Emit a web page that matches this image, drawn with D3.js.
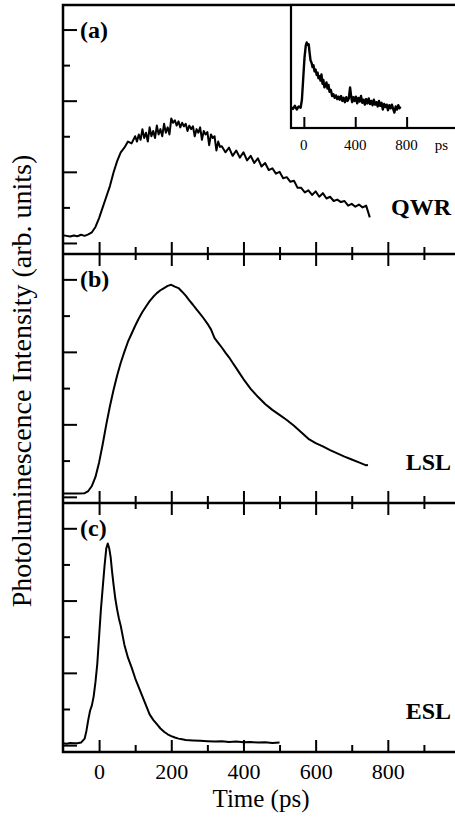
<!DOCTYPE html>
<html><head><meta charset="utf-8">
<script src="https://cdn.jsdelivr.net/npm/d3@7"></script>
<style>
body{margin:0;background:#fff}
svg{display:block}
svg text{font-family:"Liberation Serif","Times New Roman","DejaVu Serif",serif;fill:#000}
</style>
</head><body><svg id="c" width="455" height="821"></svg>
<script>
// ---------- data ----------
const qwrTime = [-100,-90,-80,-70,-60,-50,-40,-30,-20,-10,0,10,20,30,40,50,60,70,80,90,100,105,110,115,120,125,130,135,140,145,150,155,160,165,170,175,180,185,190,195,200,205,210,215,220,225,230,235,240,245,250,255,260,265,270,275,280,285,290,295,300,305,310,315,320,325,330,335,340,350,360,370,380,390,400,410,420,430,440,450,460,470,480,490,500,510,520,530,540,550,560,570,580,590,600,610,620,630,640,650,660,670,680,690,700,710,720,730,740,750];
const qwrValue = [0.22,0.20,0.18,0.21,0.19,0.23,0.20,0.24,0.30,0.45,0.70,1.00,1.30,1.60,1.98,2.30,2.55,2.68,2.85,2.80,
  3.00,2.85,3.05,2.90,3.20,2.95,3.10,2.85,3.25,3.00,3.15,2.95,3.30,3.05,3.20,3.00,3.35,3.10,3.25,3.05,
  3.50,3.38,3.45,3.30,3.42,3.25,3.38,3.28,3.35,3.15,3.30,3.20,3.28,3.00,3.20,3.10,3.25,2.90,3.15,3.05,
  3.12,2.75,3.05,2.95,3.00,2.60,2.85,2.70,2.72,
  2.55,2.68,2.45,2.60,2.40,2.55,2.32,2.45,2.25,2.38,2.15,2.25,2.05,2.10,1.95,2.00,1.82,1.85,1.72,
  1.75,1.55,1.55,1.42,1.48,1.35,1.45,1.30,1.40,1.25,1.30,1.18,1.22,1.15,1.18,1.05,1.10,1.02,1.08,1.00,1.05,0.72];

const lslTime = [-100,-80,-60,-40,-30,-20,-10,0,10,20,30,40,50,60,70,80,90,100,110,120,130,140,150,160,170,180,190,200,210,220,230,240,250,260,270,280,290,300,310,320,330,340,350,360,370,380,390,400,420,440,460,480,500,520,540,560,580,600,620,640,660,680,700,720,740,745];
const lslValue = [0.09,0.09,0.09,0.10,0.16,0.30,0.55,0.95,1.45,2.00,2.50,2.95,3.35,3.70,4.00,4.28,4.50,4.72,4.92,5.10,5.25,5.40,5.52,5.62,5.70,5.76,5.82,5.85,5.80,5.76,5.66,5.55,5.42,5.30,5.17,5.05,4.92,4.78,4.62,4.38,4.25,4.12,3.98,3.85,3.70,3.55,3.40,3.25,2.98,2.76,2.56,2.40,2.26,2.12,1.96,1.78,1.60,1.48,1.39,1.29,1.20,1.11,1.03,0.95,0.87,0.88];

const eslTime = [-100,-90,-80,-70,-60,-50,-40,-35,-30,-25,-20,-15,-10,-5,0,5,10,15,20,24,28,32,36,40,45,50,55,60,70,80,90,100,110,120,130,140,150,160,170,180,190,200,210,220,230,240,260,280,300,320,340,360,380,400,420,440,460,480,500];
const eslValue = [0.05,0.04,0.06,0.05,0.05,0.07,0.18,0.40,0.70,0.95,1.10,1.35,1.75,2.25,3.00,3.75,4.35,4.95,5.45,5.58,5.45,5.20,4.80,4.45,4.05,3.75,3.50,3.30,2.78,2.42,2.15,1.85,1.60,1.35,1.10,0.85,0.70,0.58,0.46,0.37,0.30,0.25,0.21,0.18,0.16,0.14,0.13,0.12,0.11,0.10,0.11,0.09,0.10,0.08,0.09,0.07,0.08,0.06,0.07];

const insetTime = [-100,-85,-70,-55,-40,-25,-15,-5,5,15,22,30,38,45,52,60,68,75,83,91,100,107,114,122,130,137,145,152,160,168,176,184,192,200,210,220,230,240,250,260,270,280,290,300,310,320,330,340,350,360,368,376,385,395,405,415,425,435,445,455,465,475,485,495,505,515,525,535,545,555,565,575,585,595,605,615,625,635,645,655,665,675,685,695,705,715,725,735,745,752];
const insetValue = [1.70,1.55,1.80,1.50,1.75,1.65,2.30,4.00,5.70,6.70,6.95,6.75,6.80,6.10,5.50,5.30,4.95,5.10,4.60,4.75,4.30,4.50,4.05,4.20,3.85,4.35,3.60,3.90,3.30,3.45,3.70,3.20,3.50,2.95,3.10,2.60,2.75,2.45,2.65,2.35,2.55,2.30,2.60,2.20,2.45,2.10,2.50,2.20,2.40,3.30,2.60,2.10,2.50,2.20,2.55,2.00,2.45,2.15,2.60,2.05,2.30,1.90,2.35,2.00,2.40,1.95,2.20,1.85,2.30,1.90,2.10,1.75,2.20,1.80,2.05,1.50,1.95,1.70,1.90,1.45,1.85,1.60,1.90,1.55,1.25,1.75,1.50,1.85,1.60,1.75];

const xMajorTicks = [0,200,400,600,800];
const xMinorTicks = [100,300,500,700,900];
const xTickLabels = ["0","200","400","600","800"];
const yMajorTicks = [0,2,4,6];
const yMinorTicks = [1,3,5];
const insetTicks = [0,400,800];
const insetTickLabels = ["0","400","800"];
const panelLetters = ["(a)","(b)","(c)"];
const sampleNames = ["QWR","LSL","ESL"];

// ---------- layout ----------
const svg = d3.select("#c");
const L = 63, R = 460;
const x = d3.scaleLinear().domain([-100, 1000]).range([L, R]);
const panels = [
  {top: 5, bottom: 254, lo: -0.31, hi: 6.69, t: qwrTime, v: qwrValue, nameY: 215},
  {top: 254, bottom: 503, lo: -0.17, hi: 6.70, t: lslTime, v: lslValue, nameY: 470},
  {top: 503, bottom: 752, lo: -0.19, hi: 6.70, t: eslTime, v: eslValue, nameY: 719}
];

panels.forEach((p, i) => {
  const y = d3.scaleLinear().domain([p.lo, p.hi]).range([p.bottom, p.top]);
  const g = svg.append("g");
  const pts = p.t.map((t, k) => [t, p.v[k]]);
  g.append("path").datum(pts)
    .attr("fill", "none").attr("stroke", "#000").attr("stroke-width", 2)
    .attr("stroke-linejoin", "round")
    .attr("d", d3.line().x(d => x(d[0])).y(d => y(d[1])));
  const ya = g.append("g").attr("transform", `translate(${L},0)`)
    .call(d3.axisRight(y).tickValues(yMajorTicks).tickSize(14).tickFormat(""));
  const yb = g.append("g").attr("transform", `translate(${L},0)`)
    .call(d3.axisRight(y).tickValues(yMinorTicks).tickSize(7).tickFormat(""));
  [ya, yb].forEach(a => { a.select(".domain").remove(); a.selectAll("line").attr("stroke-width", 2); });
  const last = i === panels.length - 1;
  const axes = [
    g.append("g").attr("transform", `translate(0,${p.bottom})`).call(d3.axisTop(x).tickValues(xMajorTicks).tickSize(12).tickFormat("")),
    g.append("g").attr("transform", `translate(0,${p.bottom})`).call(d3.axisTop(x).tickValues(xMinorTicks).tickSize(7).tickFormat(""))
  ];
  if (!last) {
    axes.push(g.append("g").attr("transform", `translate(0,${p.bottom})`).call(d3.axisBottom(x).tickValues(xMajorTicks).tickSize(12).tickFormat("")));
    axes.push(g.append("g").attr("transform", `translate(0,${p.bottom})`).call(d3.axisBottom(x).tickValues(xMinorTicks).tickSize(6).tickFormat("")));
  }
  axes.forEach(a => { a.select(".domain").remove(); a.selectAll("line").attr("stroke-width", 2); });
  g.append("text").attr("x", 80).attr("y", y(6) + 8)
    .attr("font-weight", "bold").attr("font-size", 24)
    .text(panelLetters[i]);
  g.append("text").attr("x", 451).attr("y", p.nameY).attr("text-anchor", "end")
    .attr("font-weight", "bold").attr("font-size", 24)
    .text(sampleNames[i]);
});

svg.append("rect").attr("x", L).attr("y", 5).attr("width", R - L).attr("height", 747)
  .attr("fill", "none").attr("stroke", "#000").attr("stroke-width", 2.5);
[254, 503].forEach(yy => svg.append("line").attr("x1", L).attr("x2", R).attr("y1", yy).attr("y2", yy)
  .attr("stroke", "#000").attr("stroke-width", 2.5));

const xl = svg.append("g").attr("transform", "translate(0,752)")
  .call(d3.axisBottom(x).tickValues(xMajorTicks).tickSize(0).tickPadding(11)
    .tickFormat((d, k) => xTickLabels[k]));
xl.select(".domain").remove();
xl.selectAll("text").attr("font-size", 22);
xl.attr("font-family", null).attr("font-size", null);

svg.append("text").attr("x", 261).attr("y", 807).attr("text-anchor", "middle")
  .attr("font-size", 25).text("Time (ps)");
svg.append("text").attr("transform", "translate(31,381) rotate(-90)").attr("text-anchor", "middle")
  .attr("font-size", 28).text("Photoluminescence Intensity (arb. units)");

// inset
const xi = d3.scaleLinear().domain([-100, 1200]).range([291, 458]);
const yi = d3.scaleLinear().domain([0, 10]).range([128, 5]);
svg.append("rect").attr("x", 291).attr("y", 5).attr("width", 170).attr("height", 123)
  .attr("fill", "#fff").attr("stroke", "#000").attr("stroke-width", 2.2);
svg.append("path").datum(insetTime.map((t, k) => [t, insetValue[k]]))
  .attr("fill", "none").attr("stroke", "#000").attr("stroke-width", 2.4).attr("stroke-linejoin", "round")
  .attr("d", d3.line().x(d => xi(d[0])).y(d => yi(d[1])));
const ia = svg.append("g").attr("transform", "translate(0,128)")
  .call(d3.axisTop(xi).tickValues(insetTicks).tickSize(11).tickFormat(""));
ia.select(".domain").remove(); ia.selectAll("line").attr("stroke-width", 2);
insetTicks.forEach((t, k) => svg.append("text").attr("x", xi(t)).attr("y", 150).attr("text-anchor", "middle")
  .attr("font-size", 15).text(insetTickLabels[k]));
svg.append("text").attr("x", xi(1070)).attr("y", 150).attr("text-anchor", "middle")
  .attr("font-size", 15).text("ps");
</script></body></html>
